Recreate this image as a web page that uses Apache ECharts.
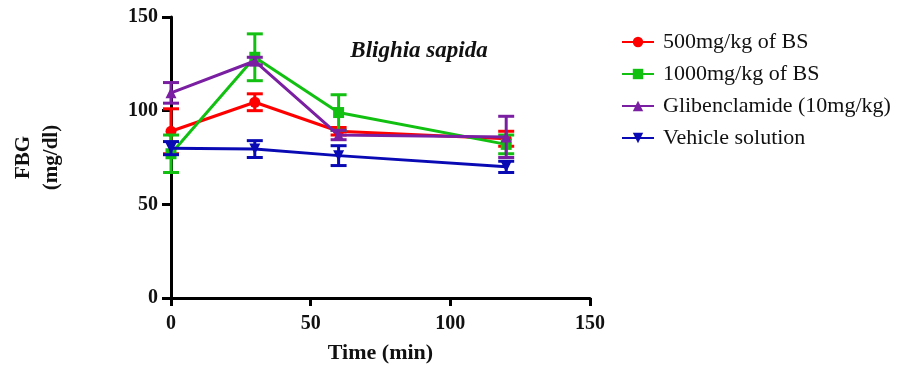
<!DOCTYPE html>
<html>
<head>
<meta charset="utf-8">
<script src="https://cdn.jsdelivr.net/npm/echarts@6/dist/echarts.min.js"></script>
<style>
  html, body { margin: 0; padding: 0; background: #fff; }
  #chart { width: 916px; height: 369px; }
</style>
</head>
<body>
<div id="chart"></div>
<script>
// data
var times = [0, 30, 60, 120];
var names = ['500mg/kg of BS', '1000mg/kg of BS', 'Glibenclamide (10mg/kg)', 'Vehicle solution'];

var bs500 = [89, 104.5, 89, 85];
var bs500Err = [12, 4.5, 2, 4];
var bs1000 = [77, 128.5, 99, 82];
var bs1000Err = [10, 12.5, 9.5, 5];
var glib = [109.5, 126.5, 87, 86];
var glibErr = [5.5, 2, 2.5, 11];
var vehicle = [80, 79.5, 76, 70];
var vehicleErr = [3.5, 4.5, 5.3, 3];

var yTicks = [0, 50, 100, 150];
var xTicks = [0, 50, 100, 150];

var colors = ['#ff0000', '#12c012', '#7a1fa2', '#0a0ab4'];
var symbols = ['circle', 'rect', 'triangle', 'triangle'];
var rotates = [0, 0, 0, 180];
var means = [bs500, bs1000, glib, vehicle];
var errs = [bs500Err, bs1000Err, glibErr, vehicleErr];

var font = '"Liberation Serif", "Times New Roman", serif';

/* 误差线 */
function errorItem(color){
	return function(params, api){
		var top = api.coord([api.value(0), api.value(2)]);
		var bot = api.coord([api.value(0), api.value(1)]);
		var w = 8;
		var st = { stroke: color, lineWidth: 3 };
		return {
			type: 'group',
			children: [
				{ type: 'line', shape: { x1: top[0], y1: top[1], x2: bot[0], y2: bot[1] }, style: st },
				{ type: 'line', shape: { x1: top[0] - w, y1: top[1], x2: top[0] + w, y2: top[1] }, style: st },
				{ type: 'line', shape: { x1: bot[0] - w, y1: bot[1], x2: bot[0] + w, y2: bot[1] }, style: st }
			]
		};
	};
}

var series = [];
for (var i = 0; i < names.length; i++) {
	var pts = [];
	var bars = [];
	for (var j = 0; j < times.length; j++) {
		pts.push([times[j], means[i][j]]);
		bars.push([times[j], means[i][j] - errs[i][j], means[i][j] + errs[i][j]]);
	}
	series.push({
		name: names[i],
		type: 'line',
		data: pts,
		symbol: symbols[i],
		symbolRotate: rotates[i],
		symbolSize: 11,
		showAllSymbol: true,
		itemStyle: { color: colors[i] },
		lineStyle: { color: colors[i], width: 3 },
		z: 3 + i
	});
	series.push({
		name: names[i],
		type: 'custom',
		data: bars,
		renderItem: errorItem(colors[i]),
		encode: { x: 0, y: [1, 2] },
		z: 3 + i,
		silent: true
	});
}

var myChart = echarts.init(document.getElementById('chart'));

var option = {
	backgroundColor: '#fff',
	animation: false,
	title: {
		text: 'Blighia sapida',
		left: 414,
		top: 35,
		textAlign: 'center',
		textStyle: { fontFamily: font, fontStyle: 'italic', fontWeight: 'bold', fontSize: 23, color: '#111' }
	},
	legend: {
		orient: 'vertical',
		left: 616,
		top: 26,
		itemWidth: 32,
		itemHeight: 13,
		itemGap: 10,
		data: names,
		textStyle: { fontFamily: font, fontSize: 22, color: '#111', padding: [0, 0, 0, 4] }
	},
	grid: { left: 171, right: 326, top: 17, bottom: 71 },
	xAxis: {
		type: 'value',
		min: 0,
		max: 150,
		interval: 50,
		name: 'Time (min)',
		nameLocation: 'middle',
		nameGap: 44,
		nameTextStyle: { fontFamily: font, fontWeight: 'bold', fontSize: 22, color: '#111' },
		axisLine: { lineStyle: { color: '#000', width: 3 } },
		axisTick: { inside: false, length: 8, lineStyle: { width: 3, color: '#000' } },
		axisLabel: { fontFamily: font, fontWeight: 'bold', fontSize: 20, color: '#111', margin: 16 },
		splitLine: { show: false }
	},
	yAxis: {
		type: 'value',
		min: 0,
		max: 150,
		interval: 50,
		name: 'FBG\n(mg/dl)',
		nameLocation: 'middle',
		nameGap: 105,
		nameTextStyle: { fontFamily: font, fontWeight: 'bold', fontSize: 21, color: '#111', lineHeight: 28 },
		axisLine: { lineStyle: { color: '#000', width: 3 } },
		axisTick: { inside: false, length: 9, lineStyle: { width: 3, color: '#000' } },
		axisLabel: { fontFamily: font, fontWeight: 'bold', fontSize: 20, color: '#111', margin: 13 },
		splitLine: { show: false }
	},
	series: series
};

myChart.setOption(option);
</script>
</body>
</html>
